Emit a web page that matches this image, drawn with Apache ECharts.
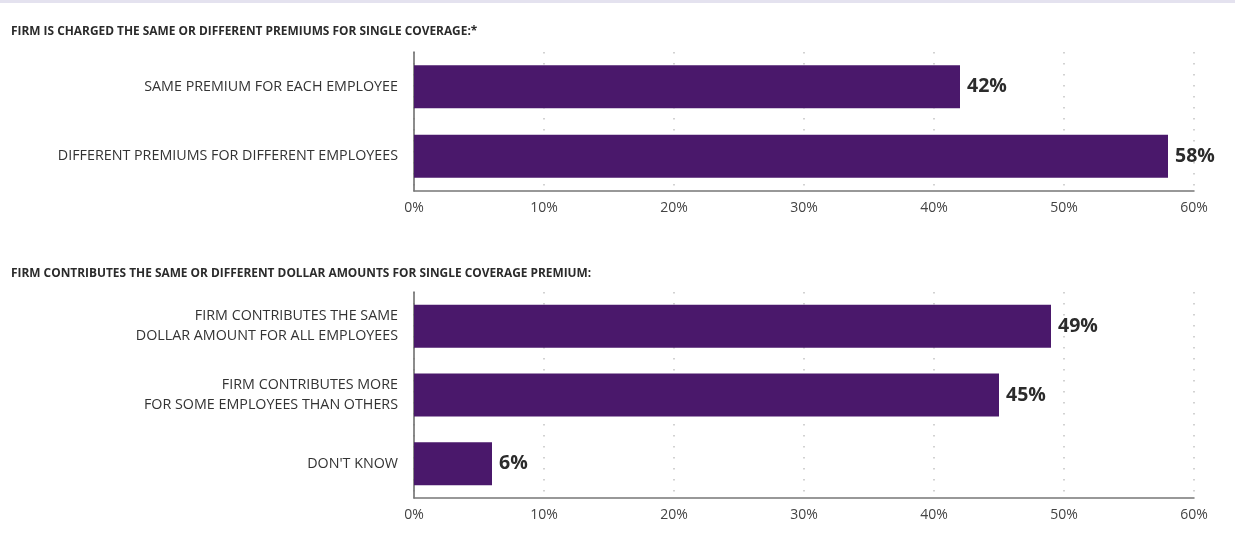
<!DOCTYPE html>
<html>
<head>
<meta charset="utf-8">
<script src="https://cdn.jsdelivr.net/npm/echarts@6/dist/echarts.min.js"></script>
<style>
  html, body { margin: 0; padding: 0; background: #fff; }
  #chart { width: 1235px; height: 546px; }
</style>
</head>
<body>
<div id="chart"></div>
<script>
// top panel
const title1 = 'FIRM IS CHARGED THE SAME OR DIFFERENT PREMIUMS FOR SINGLE COVERAGE:*'
const cats1 = ['SAME PREMIUM FOR EACH EMPLOYEE', 'DIFFERENT PREMIUMS FOR DIFFERENT EMPLOYEES']
const vals1 = [42, 58]

// bottom panel
const title2 = 'FIRM CONTRIBUTES THE SAME OR DIFFERENT DOLLAR AMOUNTS FOR SINGLE COVERAGE PREMIUM:'
const cats2 = [
  'FIRM CONTRIBUTES THE SAME\nDOLLAR AMOUNT FOR ALL EMPLOYEES',
  'FIRM CONTRIBUTES MORE\nFOR SOME EMPLOYEES THAN OTHERS',
  "DON'T KNOW"
]
const vals2 = [49, 45, 6]

const xTicks = { min: 0, max: 60, interval: 10 }

const FONT = '"Open Sans", "Noto Sans", sans-serif'
const BAR = '#4a186b'

const chart = echarts.init(document.getElementById('chart'))

const xAxisFor = gridIndex => ({
  type: 'value',
  gridIndex,
  min: xTicks.min,
  max: xTicks.max,
  interval: xTicks.interval,
  axisLine: { show: true, lineStyle: { color: '#777', width: 1.5 } },
  axisTick: { show: false },
  axisLabel: {
    formatter: '{value}%',
    color: '#444',
    fontFamily: FONT,
    fontSize: 14,
    margin: 10
  },
  splitLine: {
    show: true,
    lineStyle: { color: '#d2d2d2', width: 2, type: [1.5, 9.5] }
  }
})

const yAxisFor = (gridIndex, data) => ({
  type: 'category',
  gridIndex,
  data,
  inverse: true,
  axisLine: { show: true, lineStyle: { color: '#666', width: 1.5 } },
  axisTick: { show: false },
  axisLabel: {
    color: '#333',
    fontFamily: FONT,
    fontSize: 14.3,
    lineHeight: 20,
    margin: 16,
    align: 'right'
  }
})

const barSeries = (idx, data) => ({
  type: 'bar',
  xAxisIndex: idx,
  yAxisIndex: idx,
  data,
  barWidth: 43,
  itemStyle: { color: BAR },
  label: {
    show: true,
    position: 'right',
    distance: 7,
    formatter: '{c}%',
    color: '#2b2b2b',
    fontFamily: FONT,
    fontWeight: 'bold',
    fontSize: 19.5
  },
  silent: true
})

chart.setOption({
  animation: false,
  backgroundColor: '#fff',
  graphic: [
    { type: 'rect', shape: { x: 0, y: 0, width: 1235, height: 3 }, style: { fill: '#e4e2ef' } }
  ],
  title: [
    { text: title1, left: 6, top: 21, textStyle: { fontFamily: FONT, fontSize: 11.9, fontWeight: 'bold', color: '#2b2b2b' } },
    { text: title2, left: 6, top: 263, textStyle: { fontFamily: FONT, fontSize: 11.9, fontWeight: 'bold', color: '#2b2b2b' } }
  ],
  grid: [
    { left: 414, right: 41, top: 52, height: 139 },
    { left: 414, right: 41, top: 292, height: 206 }
  ],
  xAxis: [xAxisFor(0), xAxisFor(1)],
  yAxis: [yAxisFor(0, cats1), yAxisFor(1, cats2)],
  series: [barSeries(0, vals1), barSeries(1, vals2)]
})
</script>
</body>
</html>
